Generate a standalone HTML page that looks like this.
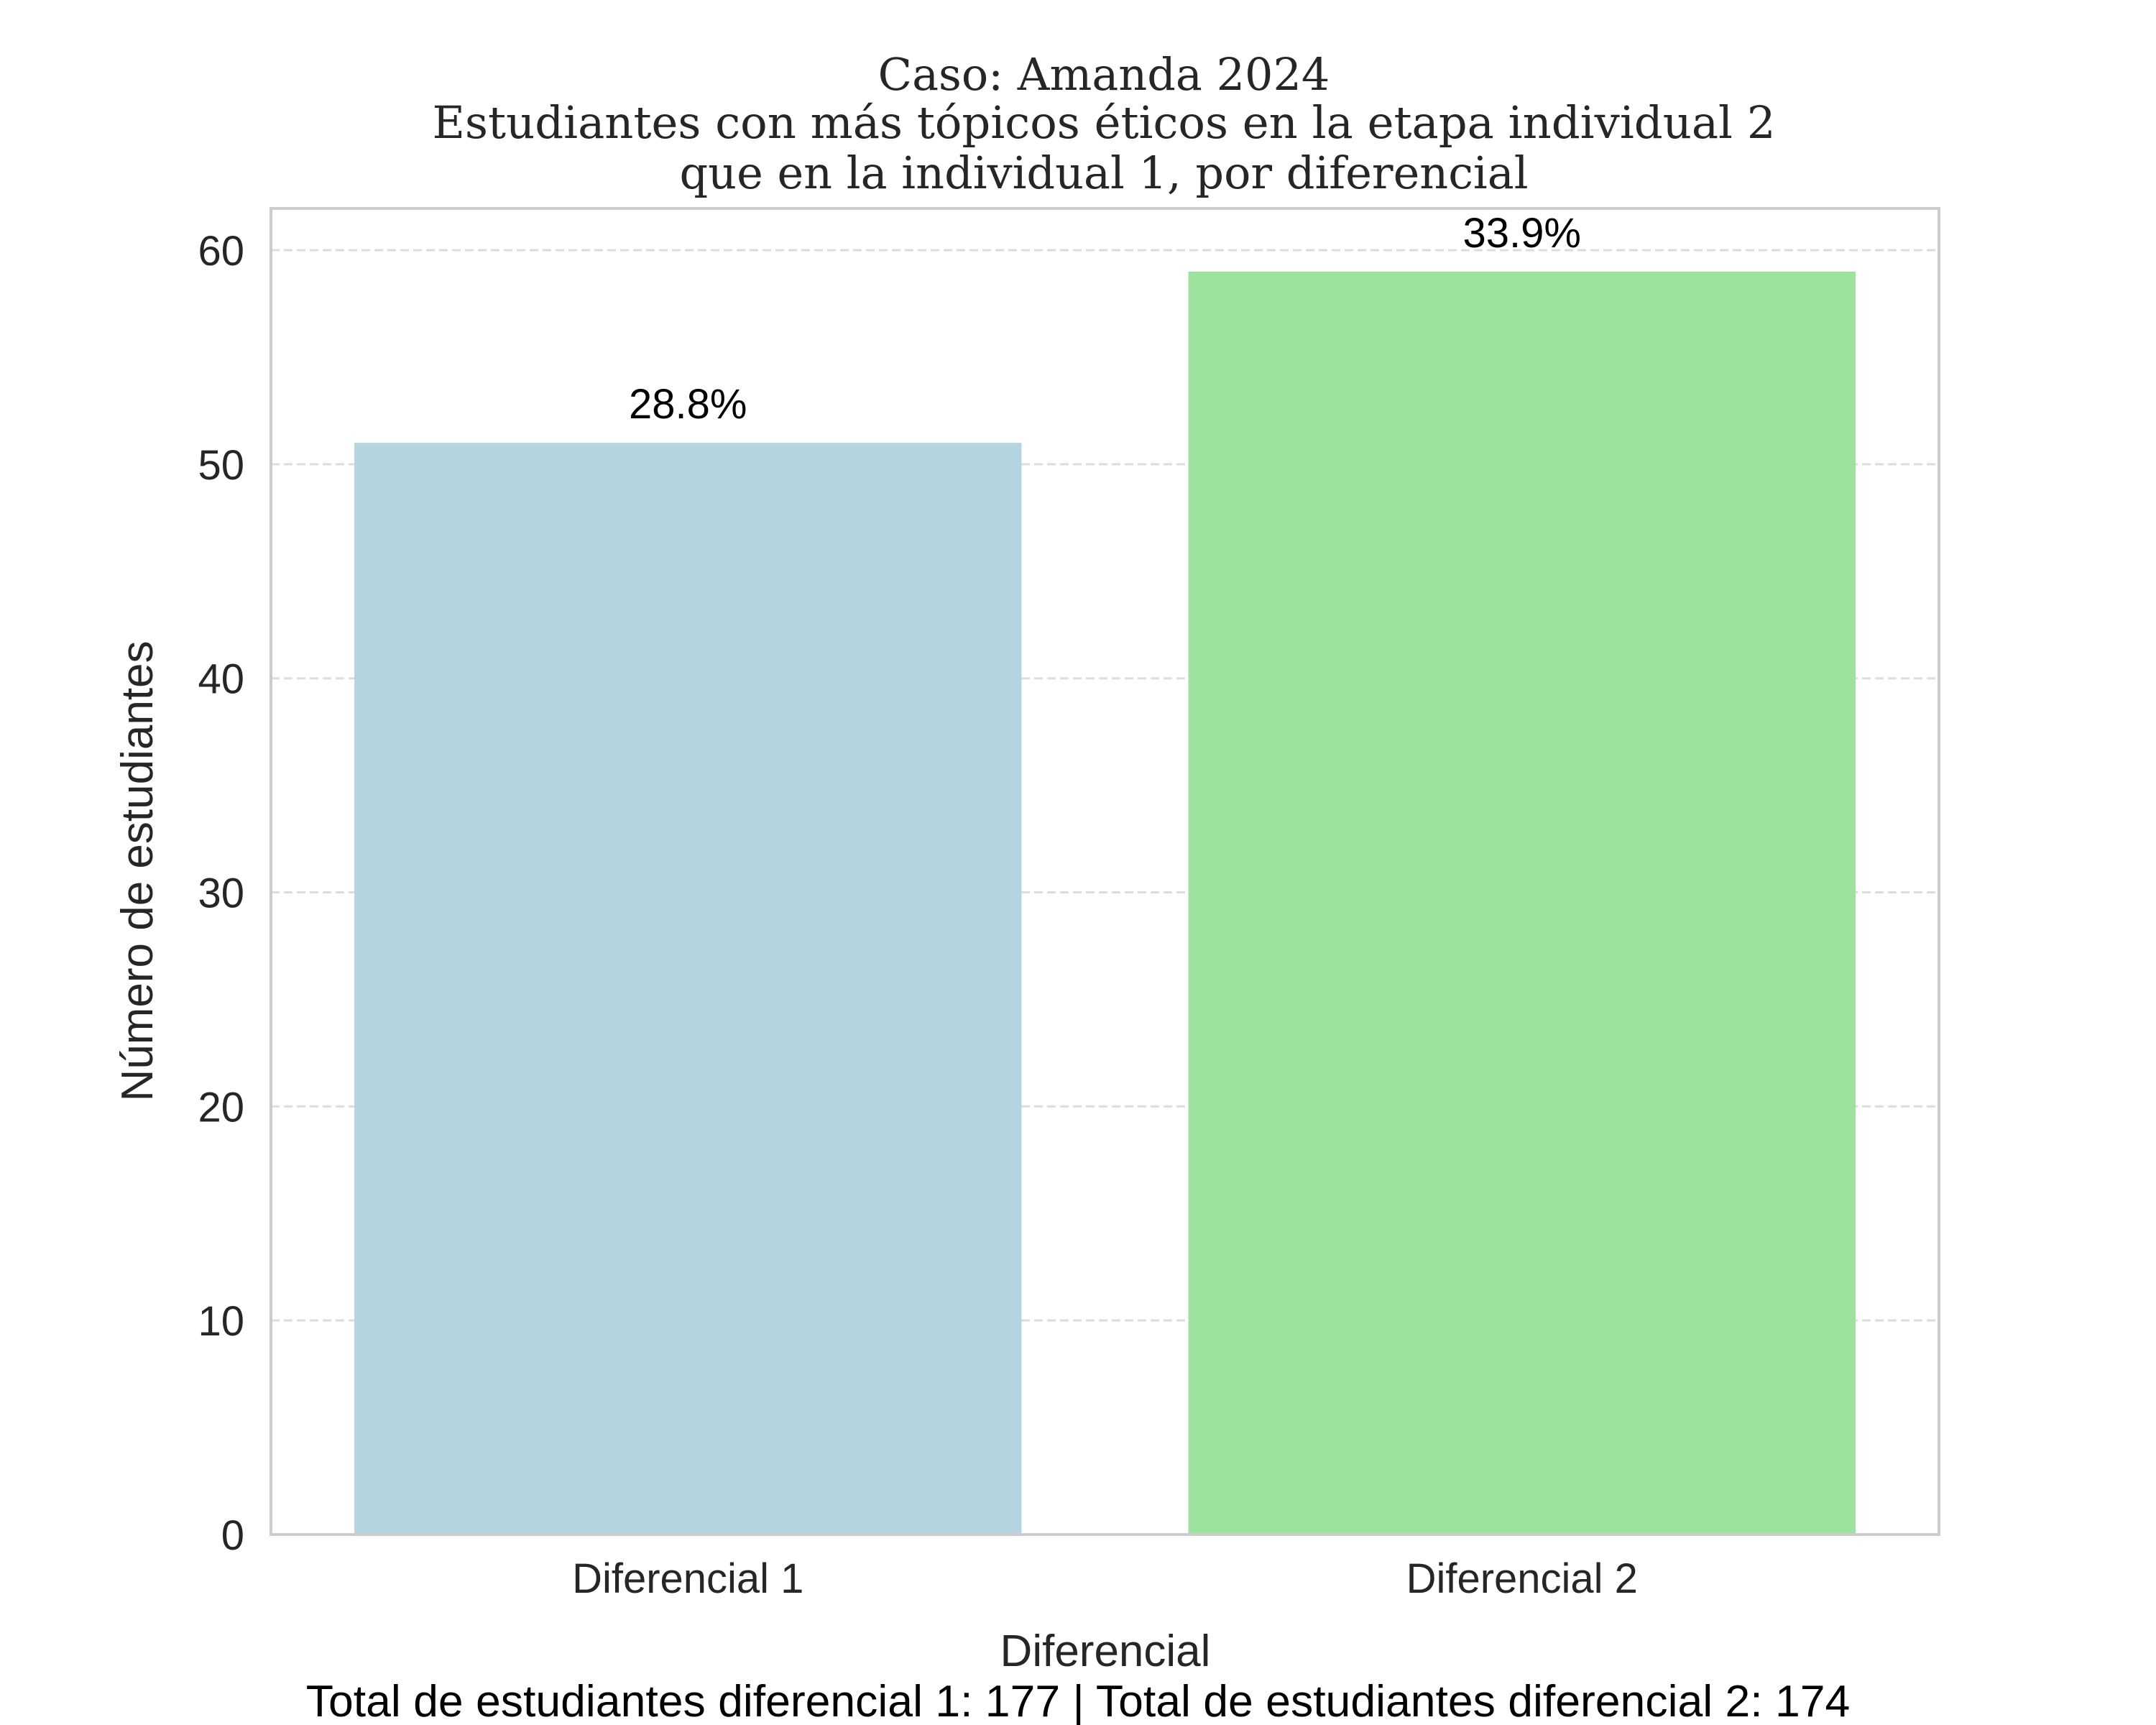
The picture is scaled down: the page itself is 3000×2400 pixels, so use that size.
<!DOCTYPE html>
<html><head><meta charset="utf-8"><style>html,body{margin:0;padding:0;background:#fff}svg{display:block}</style></head>
<body>
<svg id="chart" width="3000" height="2400" viewBox="0 0 3000 2400" xmlns="http://www.w3.org/2000/svg">
<rect width="3000" height="2400" fill="#fff"/>
<g font-family="'DejaVu Serif', 'Liberation Serif', serif" font-size="62" fill="#262626" text-anchor="middle">
<text x="1536" y="125">Caso: Amanda 2024</text>
<text x="1536" y="192" textLength="1869" lengthAdjust="spacingAndGlyphs">Estudiantes con más tópicos éticos en la etapa individual 2</text>
<text x="1536" y="262">que en la individual 1, por diferencial</text>
</g>
<g id="grid"></g>
<g id="bars"></g>
<g id="labels"></g>
<rect x="377" y="290" width="2321" height="1845" fill="none" stroke="#cccccc" stroke-width="4"/>
<g id="yticks"></g>
<g id="xticks"></g>
<text x="0" y="0" transform="translate(212,1212) rotate(-90)" text-anchor="middle" font-family="'Liberation Sans', sans-serif" font-size="62" fill="#262626">Número de estudiantes</text>
<text x="1538" y="2318" text-anchor="middle" font-family="'Liberation Sans', sans-serif" font-size="62" fill="#262626">Diferencial</text>
<text x="1500" y="2388" text-anchor="middle" font-family="'Liberation Sans', sans-serif" font-size="62.5" fill="#000">Total de estudiantes diferencial 1: 177 | Total de estudiantes diferencial 2: 174</text>
</svg>
<script>
const categories = ["Diferencial 1", "Diferencial 2"];
const counts = [51, 59];
const percentLabels = ["28.8%", "33.9%"];
const yTicks = [0, 10, 20, 30, 40, 50, 60];
const barColors = ["#b4d5df", "#9de29d"];

const NS = "http://www.w3.org/2000/svg";
const plotL = 377, plotR = 2698, plotT = 290, plotB = 2135;
const yMax = 61.95;
function yScale(v){ return plotB - v / yMax * (plotB - plotT); }
function xScale(i){ return plotL + (i + 0.5) / categories.length * (plotR - plotL); }
const band = (plotR - plotL) / categories.length;
function mk(tag, attrs){ const e = document.createElementNS(NS, tag); for (const k in attrs) e.setAttribute(k, attrs[k]); return e; }

const grid = document.getElementById("grid");
const yt = document.getElementById("yticks");
yTicks.forEach(function(t){
  const y = yScale(t);
  if (t > 0) {
    const l = mk("line", {x1: plotL, x2: plotR, y1: y, y2: y, stroke: "#dddddd", "stroke-width": 3, "stroke-dasharray": "12,6"});
    
    
    grid.appendChild(l);
  }
  const tx = mk("text", {x: 340, y: y + 21, "text-anchor": "end", "font-family": "'Liberation Sans', sans-serif", "font-size": 58, fill: "#262626"});
  tx.textContent = t;
  
  
  yt.appendChild(tx);
});

const bars = document.getElementById("bars");
const labels = document.getElementById("labels");
const xt = document.getElementById("xticks");
categories.forEach(function(c, i){
  const cx = xScale(i), w = band * 0.8;
  const r = mk("rect", {x: cx - w / 2, y: yScale(counts[i]), width: w, height: plotB - yScale(counts[i]), fill: barColors[i]});
  
  
  bars.appendChild(r);
  const lb = mk("text", {x: cx, y: yScale(counts[i]) - 34, "text-anchor": "middle", "font-family": "'Liberation Sans', sans-serif", "font-size": 58, fill: "#000"});
  lb.textContent = percentLabels[i];
  
  
  labels.appendChild(lb);
  const tl = mk("text", {x: cx, y: 2216, "text-anchor": "middle", "font-family": "'Liberation Sans', sans-serif", "font-size": 58, fill: "#262626"});
  tl.textContent = c;
  
  
  xt.appendChild(tl);
});
</script>
</body></html>
